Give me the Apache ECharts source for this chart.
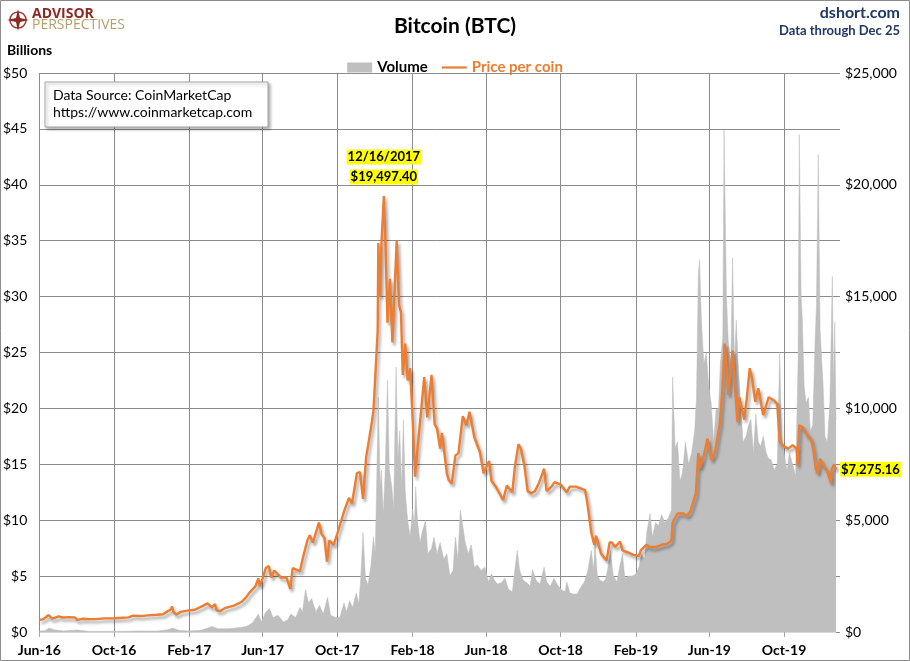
<!DOCTYPE html>
<html>
<head>
<meta charset="UTF-8">
<title>Bitcoin (BTC)</title>
<script src="https://cdn.jsdelivr.net/npm/echarts@6/dist/echarts.min.js"></script>
<style>
  html, body { margin: 0; padding: 0; background: #fff; }
  #chart { width: 910px; height: 661px; }
</style>
</head>
<body>
<div id="chart"></div>
<script>
// price per coin (USD)
var priceDates = [
  '2016-06-01','2016-06-07','2016-06-12','2016-06-16','2016-06-18','2016-06-22','2016-06-26','2016-07-02','2016-07-10','2016-07-20','2016-07-29',
  '2016-08-02','2016-08-10','2016-08-20','2016-09-01','2016-09-15','2016-10-01','2016-10-15','2016-10-25','2016-11-01','2016-11-10','2016-11-20',
  '2016-12-01','2016-12-10','2016-12-20','2016-12-26',
  '2017-01-01','2017-01-04','2017-01-06','2017-01-11','2017-01-18','2017-01-31','2017-02-10','2017-02-23','2017-03-03','2017-03-10','2017-03-15',
  '2017-03-18','2017-03-24','2017-04-01','2017-04-15','2017-04-27','2017-05-05','2017-05-10','2017-05-20','2017-05-25','2017-05-27','2017-06-01',
  '2017-06-06','2017-06-11','2017-06-15','2017-06-20','2017-07-01','2017-07-10','2017-07-16','2017-07-20','2017-08-01','2017-08-05','2017-08-13',
  '2017-08-17','2017-08-22','2017-09-01','2017-09-05','2017-09-10','2017-09-14','2017-09-18','2017-09-25','2017-10-01','2017-10-12','2017-10-20',
  '2017-10-25','2017-11-02','2017-11-07','2017-11-12','2017-11-17','2017-11-26','2017-11-29','2017-12-01','2017-12-06','2017-12-07','2017-12-08',
  '2017-12-10','2017-12-12','2017-12-16','2017-12-19','2017-12-22','2017-12-26','2017-12-30',
  '2018-01-06','2018-01-10','2018-01-13','2018-01-16','2018-01-20','2018-01-24','2018-01-28','2018-02-02','2018-02-05','2018-02-09','2018-02-16',
  '2018-02-20','2018-02-25','2018-03-04','2018-03-09','2018-03-13','2018-03-18','2018-03-21','2018-03-29','2018-04-01','2018-04-06','2018-04-12',
  '2018-04-17','2018-04-24','2018-04-30','2018-05-05','2018-05-13','2018-05-22','2018-05-28','2018-06-06','2018-06-10','2018-06-17','2018-06-24',
  '2018-06-29','2018-07-05','2018-07-14','2018-07-18','2018-07-24','2018-07-28','2018-08-03','2018-08-08','2018-08-14','2018-08-20','2018-08-27',
  '2018-09-04','2018-09-08','2018-09-16','2018-09-21','2018-10-01','2018-10-11','2018-10-16','2018-10-26','2018-11-05','2018-11-10','2018-11-14',
  '2018-11-20','2018-11-25','2018-11-28','2018-12-06','2018-12-15','2018-12-20','2018-12-24','2018-12-29',
  '2019-01-06','2019-01-10','2019-01-20','2019-01-28','2019-02-06','2019-02-09','2019-02-18','2019-02-24','2019-03-05','2019-03-15','2019-03-25',
  '2019-03-31','2019-04-02','2019-04-10','2019-04-20','2019-04-26','2019-05-01','2019-05-10','2019-05-14','2019-05-17','2019-05-23','2019-05-29',
  '2019-06-04','2019-06-10','2019-06-18','2019-06-22','2019-06-26','2019-06-28','2019-07-02','2019-07-09','2019-07-12','2019-07-17','2019-07-20',
  '2019-07-28','2019-08-01','2019-08-06','2019-08-10','2019-08-15','2019-08-20','2019-08-28','2019-09-06','2019-09-15','2019-09-20','2019-09-24',
  '2019-10-01','2019-10-08','2019-10-15','2019-10-22','2019-10-23','2019-10-26','2019-11-01','2019-11-08','2019-11-14','2019-11-18','2019-11-22',
  '2019-11-25','2019-11-29','2019-12-05','2019-12-10','2019-12-17','2019-12-18','2019-12-22','2019-12-25'
];
var priceValues = [
  530,575,670,760,755,600,630,700,650,665,655,
  545,590,580,575,610,615,640,655,730,715,730,
  755,770,795,900,
  995,1135,900,780,900,965,995,1170,1280,1100,1250,
  970,940,1080,1180,1340,1550,1750,2040,2400,2050,2400,
  2860,2950,2440,2750,2430,2430,1930,2860,2720,3230,4100,
  4330,4000,4900,4400,4200,3150,4100,3900,4400,5400,6000,
  5750,7100,7150,5950,7800,9300,9900,10900,13500,17400,16300,
  15000,17300,19497.4,17100,13830,15800,12950,
  17500,14600,14300,11500,12900,11250,11800,9000,6950,8200,10200,
  11400,9600,11500,9300,9100,8200,8900,7100,6800,6640,7900,
  8000,9650,9250,9850,8700,8050,7100,7650,6750,6500,6150,
  5900,6550,6250,7350,8400,8200,7400,6300,6200,6300,6700,
  7300,6300,6500,6700,6600,6250,6500,6500,6400,6350,5700,
  4450,3900,4300,3500,3200,4000,4000,3800,
  4050,3650,3550,3450,3400,3650,3900,3800,3800,3900,3950,
  4100,4900,5300,5300,5200,5400,6200,8000,7350,7900,8650,
  7700,8000,9300,10700,12900,12400,10600,12600,11300,9400,10500,
  9500,10400,11800,11300,10300,10900,9700,10500,10350,10200,8500,
  8300,8200,8350,8200,7450,9250,9150,8800,8650,8150,7300,
  7100,7750,7400,7250,6650,7290,7500,7275.16
];

// daily volume (USD billions)
var volDates = [
  '2016-06-01','2016-06-10','2016-06-17','2016-06-25','2016-07-10','2016-08-02','2016-08-20','2016-09-15','2016-10-15','2016-11-10','2016-12-10',
  '2016-12-28','2017-01-05','2017-01-15','2017-02-01','2017-02-20','2017-03-03','2017-03-10','2017-03-20','2017-04-05','2017-04-25','2017-05-05',
  '2017-05-15','2017-05-25','2017-05-30','2017-06-06','2017-06-12','2017-06-18','2017-06-26','2017-07-05','2017-07-12','2017-07-17','2017-07-25',
  '2017-08-01','2017-08-05','2017-08-10','2017-08-15','2017-08-20','2017-08-27','2017-09-02','2017-09-08','2017-09-15','2017-09-20','2017-09-28',
  '2017-10-05','2017-10-12','2017-10-16','2017-10-21','2017-10-26','2017-11-01','2017-11-05','2017-11-08','2017-11-12','2017-11-16','2017-11-20',
  '2017-11-25','2017-11-29','2017-12-02','2017-12-07','2017-12-10','2017-12-12','2017-12-15','2017-12-18','2017-12-22','2017-12-25','2017-12-29',
  '2018-01-01','2018-01-05','2018-01-08','2018-01-11','2018-01-14','2018-01-17','2018-01-20','2018-01-24','2018-01-28','2018-02-01','2018-02-04',
  '2018-02-06','2018-02-09','2018-02-13','2018-02-17','2018-02-22','2018-02-26','2018-03-04','2018-03-08','2018-03-13','2018-03-18','2018-03-24',
  '2018-03-29','2018-04-03','2018-04-08','2018-04-12','2018-04-16','2018-04-20','2018-04-24','2018-04-28','2018-05-03','2018-05-08','2018-05-13',
  '2018-05-18','2018-05-24','2018-05-30','2018-06-05','2018-06-10','2018-06-15','2018-06-20','2018-06-26','2018-07-02','2018-07-08','2018-07-14',
  '2018-07-18','2018-07-22','2018-07-26','2018-08-01','2018-08-07','2018-08-12','2018-08-16','2018-08-22','2018-08-28','2018-09-04','2018-09-08',
  '2018-09-14','2018-09-20','2018-09-26','2018-10-02','2018-10-08','2018-10-11','2018-10-16','2018-10-22','2018-10-28','2018-11-03','2018-11-09',
  '2018-11-14','2018-11-20','2018-11-24','2018-11-26','2018-11-30','2018-12-05','2018-12-10','2018-12-14','2018-12-18','2018-12-21','2018-12-26',
  '2019-01-01','2019-01-06','2019-01-10','2019-01-14','2019-01-20','2019-01-26','2019-02-01','2019-02-06','2019-02-10','2019-02-15','2019-02-19',
  '2019-02-24','2019-02-28','2019-03-05','2019-03-10','2019-03-15','2019-03-20','2019-03-26','2019-03-31','2019-04-02','2019-04-06','2019-04-10',
  '2019-04-14','2019-04-18','2019-04-23','2019-04-28','2019-05-03','2019-05-08','2019-05-11','2019-05-14','2019-05-16','2019-05-19','2019-05-23',
  '2019-05-27','2019-05-31','2019-06-04','2019-06-08','2019-06-12','2019-06-16','2019-06-19','2019-06-23','2019-06-25','2019-06-29','2019-07-02',
  '2019-07-06','2019-07-09','2019-07-12','2019-07-15','2019-07-18','2019-07-22','2019-07-26','2019-07-31','2019-08-04','2019-08-08','2019-08-12',
  '2019-08-16','2019-08-20','2019-08-24','2019-08-28','2019-09-02','2019-09-06','2019-09-10','2019-09-15','2019-09-20','2019-09-24','2019-09-27',
  '2019-10-01','2019-10-06','2019-10-10','2019-10-15','2019-10-20','2019-10-24','2019-10-26','2019-10-29','2019-10-31','2019-11-03','2019-11-06',
  '2019-11-10','2019-11-13','2019-11-17','2019-11-21','2019-11-23','2019-11-26','2019-11-29','2019-12-01','2019-12-04','2019-12-07','2019-12-11',
  '2019-12-15','2019-12-19','2019-12-21','2019-12-23','2019-12-25'
];
var volValues = [
  0.08,0.12,0.35,0.2,0.1,0.18,0.06,0.06,0.06,0.1,0.08,
  0.2,0.35,0.15,0.1,0.15,0.35,0.5,0.3,0.3,0.4,0.5,
  0.8,1.6,0.9,1.8,2.1,1.3,1.5,0.9,1.1,1.6,1.3,
  2.2,1.8,3.8,2.6,3.0,1.8,2.4,1.6,3.1,1.5,1.3,
  1.3,2.6,1.8,2.8,2.2,3.5,2.5,4.6,8.9,4.8,4.2,
  6.0,8.5,7.0,21.0,13.0,14.5,10.5,14.0,22.5,14.5,13.0,
  11.0,23.7,15.5,18.0,13.0,19.0,12.5,10.0,8.5,11.0,9.5,
  13.0,10.0,8.0,9.0,10.0,7.0,7.5,8.5,7.0,8.0,6.5,
  7.0,5.0,5.5,8.5,6.5,10.9,9.5,8.0,7.0,7.8,5.8,
  6.0,5.5,5.8,4.5,5.2,4.6,4.3,4.4,4.8,3.8,3.6,
  5.5,7.3,5.5,4.6,4.4,4.1,5.6,4.6,4.3,5.8,4.5,
  4.1,4.8,4.2,3.8,3.6,4.5,3.5,3.4,3.4,4.0,4.5,
  5.4,7.3,5.5,8.0,5.0,4.6,4.5,4.8,6.0,7.3,5.0,
  4.5,6.0,7.0,4.8,5.0,5.0,5.2,5.8,7.0,6.5,9.0,
  10.6,8.5,9.8,9.5,10.5,9.8,10.2,10.9,22.8,16.5,17.0,
  13.5,14.2,17.0,15.0,16.0,18.0,21.0,32.0,33.3,27.9,24.0,
  25.0,22.0,20.5,17.0,19.9,20.0,24.0,26.4,44.9,30.0,26.0,
  24.0,33.5,24.0,27.9,24.0,20.5,17.0,17.5,18.5,19.0,16.0,
  19.5,17.0,16.6,17.5,16.0,15.5,15.4,14.5,15.0,25.0,17.5,
  16.0,14.5,16.0,15.0,14.0,24.0,44.5,30.0,27.9,22.0,20.5,
  21.0,18.0,18.5,26.4,29.0,42.7,27.0,25.0,22.0,17.5,17.0,
  20.5,31.8,22.0,27.7,19.0
];

// x-axis tick months (Jun / Oct / Feb)
var tickDates = [
  '2016-06-01','2016-10-01','2017-02-01','2017-06-01','2017-10-01','2018-02-01',
  '2018-06-01','2018-10-01','2019-02-01','2019-06-01','2019-10-01'
];
var monthNames = ['Jan','Feb','Mar','Apr','May','Jun','Jul','Aug','Sep','Oct','Nov','Dec'];

var startDate = '2016-06-01';
var endDate = '2019-12-25';
var peakDate = '2017-12-16';
var peakPrice = 19497.4;

function ts(s)
{
  var p = s.split('-');
  return Date.UTC(+p[0], +p[1] - 1, +p[2]);
}
function money(v, dec)
{
  return '$' + v.toLocaleString('en-US', {minimumFractionDigits: dec, maximumFractionDigits: dec});
}

var chart = echarts.init(document.getElementById('chart'));

var priceData = priceDates.map(function(d, i) { return [ts(d), priceValues[i]]; });
var volData = volDates.map(function(d, i) { return [ts(d), volValues[i]]; });
var tickValues = tickDates.map(ts);

var FONT = 'Lato, "Open Sans", sans-serif';
var GRID_GRAY = '#8c8c8c';

var option =
{
  animation: false,
  backgroundColor: '#fff',
  textStyle: { fontFamily: FONT },
  title: {
    text: 'Bitcoin (BTC)',
    left: 'center',
    top: 11,
    textStyle: { fontSize: 21, fontWeight: 'bold', color: '#000', fontFamily: FONT }
  },
  legend: {
    top: 55,
    left: 'center',
    itemGap: 14,
    itemWidth: 25,
    itemHeight: 10,
    textStyle: { fontSize: 15, fontWeight: 'bold', fontFamily: FONT },
    data: [
      { name: 'Volume', icon: 'rect', textStyle: { color: '#000' } },
      { name: 'Price per coin', icon: 'path://M0,0L25,0L25,2.2L0,2.2Z', textStyle: { color: '#ed7d31' } }
    ]
  },
  grid: {
    left: 36,
    right: 74,
    top: 73,
    bottom: 29,
    containLabel: false
  },
  xAxis: {
    type: 'value',
    min: ts(startDate),
    max: ts(endDate),
    axisLine: { lineStyle: { color: '#d9d9d9' } },
    axisTick: { show: true, length: 5, customValues: tickValues, lineStyle: { color: '#a6a6a6' } },
    axisLabel: {
      customValues: tickValues,
      fontSize: 14,
      fontWeight: 'bold',
      color: '#000',
      margin: 11,
      formatter: function(v)
      {
        var d = new Date(v);
        return monthNames[d.getUTCMonth()] + '-' + String(d.getUTCFullYear()).slice(2);
      }
    },
    splitLine: { show: true, lineStyle: { color: GRID_GRAY, width: 1 } }
  },
  yAxis: [
    {
      type: 'value',
      min: 0,
      max: 50,
      interval: 5,
      axisLine: { show: false },
      axisTick: { show: false },
      axisLabel: { fontSize: 14, color: '#000', margin: 12, formatter: function(v) { return '$' + v; } },
      splitLine: { show: true, lineStyle: { color: GRID_GRAY, width: 1 } }
    },
    {
      type: 'value',
      min: 0,
      max: 25000,
      interval: 2500,
      position: 'right',
      axisLine: { show: false },
      axisTick: { show: true, length: 4, lineStyle: { color: GRID_GRAY } },
      axisLabel: {
        fontSize: 14, color: '#000', margin: 9,
        formatter: function(v) { return v % 5000 === 0 ? money(v, 0) : ''; }
      },
      splitLine: { show: false }
    }
  ],
  series: [
    {
      name: 'Volume',
      type: 'line',
      yAxisIndex: 0,
      data: volData,
      symbol: 'none',
      itemStyle: { color: '#bfbfbf' },
      lineStyle: { color: '#bfbfbf', width: 0.5 },
      areaStyle: { color: '#bfbfbf', opacity: 1 },
      z: 1
    },
    {
      name: 'Price per coin',
      type: 'line',
      yAxisIndex: 1,
      data: priceData,
      symbol: 'none',
      itemStyle: { color: '#ed7d31' },
      lineStyle: {
        color: '#ed7d31', width: 2.4,
        shadowColor: 'rgba(0,0,0,0.35)', shadowBlur: 3, shadowOffsetX: 2, shadowOffsetY: 3
      },
      z: 3,
      endLabel: {
        show: true,
        distance: 4,
        formatter: function(p) { return money(p.value[1], 2); },
        fontSize: 13,
        fontWeight: 'bold',
        color: '#000',
        backgroundColor: '#ffff00',
        padding: [1, 1]
      },
      markPoint: {
        symbol: 'circle',
        symbolSize: 0,
        data: [{ coord: [ts(peakDate), peakPrice] }],
        label: {
          show: true,
          position: 'top',
          distance: 9,
          formatter: function()
          {
            var d = peakDate.split('-');
            return '{a|' + d[1] + '/' + d[2] + '/' + d[0] + '}\n{a|' + money(peakPrice, 2) + '}';
          },
          rich: {
            a: {
              fontSize: 13, fontWeight: 'bold', color: '#000', fontFamily: FONT,
              backgroundColor: '#ffff00', padding: [1, 1], lineHeight: 20
            }
          }
        }
      }
    }
  ],
  graphic: [
    { type: 'rect', shape: { x: 0.5, y: 0.5, width: 909, height: 660 }, style: { fill: 'none', stroke: GRID_GRAY, lineWidth: 1 }, silent: true, z: 100 },
    // logo
    { type: 'circle', shape: { cx: 18, cy: 20, r: 8 }, style: { fill: 'none', stroke: '#9b3a2e', lineWidth: 1.5 }, z: 100 },
    { type: 'polygon', shape: { points: [[18, 9], [20, 18], [29, 20], [20, 22], [18, 31], [16, 22], [7, 20], [16, 18]] }, style: { fill: '#8c2a22' }, z: 100 },
    { type: 'text', left: 32, top: 7, style: { text: 'ADVISOR', fontSize: 14, fontWeight: 'bold', fill: '#8c2a22', fontFamily: '"Open Sans", sans-serif' }, z: 100 },
    { type: 'text', left: 32, top: 18, style: { text: 'PERSPECTIVES', fontSize: 14, fill: '#b59f68', fontFamily: '"Open Sans", sans-serif' }, z: 100 },
    // right header
    { type: 'text', right: 10, top: 5, style: { text: 'dshort.com', fontSize: 16, fontWeight: 'bold', fill: '#1f3864', fontFamily: FONT }, z: 100 },
    { type: 'text', right: 10, top: 24, style: { text: 'Data through Dec 25', fontSize: 13, fontWeight: 'bold', fill: '#1f3864', fontFamily: FONT }, z: 100 },
    { type: 'text', left: 7, top: 43, style: { text: 'Billions', fontSize: 14, fontWeight: 'bold', fill: '#000', fontFamily: FONT }, z: 100 },
    // data source box
    {
      type: 'rect', shape: { x: 45, y: 82, width: 223, height: 45 },
      style: { fill: '#fff', stroke: '#a6a6a6', lineWidth: 1, shadowColor: 'rgba(0,0,0,0.3)', shadowBlur: 3, shadowOffsetX: 2, shadowOffsetY: 2 },
      z: 100
    },
    { type: 'text', left: 53, top: 88, style: { text: 'Data Source: CoinMarketCap', fontSize: 14, fill: '#000', fontFamily: FONT }, z: 101 },
    { type: 'text', left: 53, top: 105, style: { text: 'https://www.coinmarketcap.com', fontSize: 14, fill: '#000', fontFamily: FONT }, z: 101 }
  ]
};

chart.setOption(option);
</script>
</body>
</html>
